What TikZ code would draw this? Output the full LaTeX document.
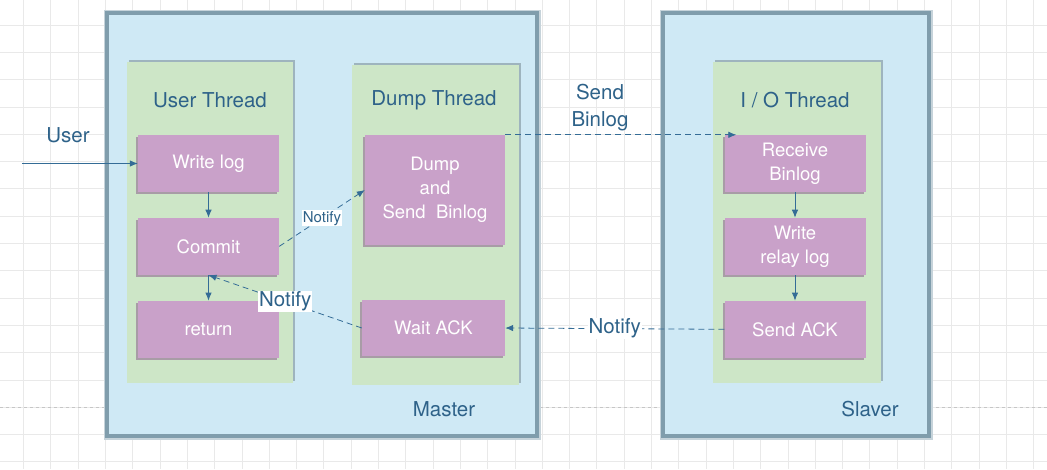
\documentclass[tikz,border=0pt]{standalone}
\usepackage{fontspec}
\setmainfont{TeX Gyre Heros}
\usetikzlibrary{arrows.meta,calc,positioning}

\definecolor{gridgray}{RGB}{233,233,233}
\definecolor{serverblue}{RGB}{207,233,245}
\definecolor{serveredge}{RGB}{128,157,172}
\definecolor{threadgreen}{RGB}{205,230,199}
\definecolor{threadedge}{RGB}{158,180,190}
\definecolor{taskpurple}{RGB}{201,161,201}
\definecolor{taskshadow}{RGB}{168,156,166}
\definecolor{inkblue}{RGB}{46,98,137}
\definecolor{arrowblue}{RGB}{52,108,150}

\tikzset{
	>={Latex[length=8pt,width=6.5pt]},     % arrow tips
	server/.style={fill=serverblue, draw=serveredge, line width=3.5pt,
		preaction={draw=serveredge!45, line width=7pt}},
	thread/.style={fill=threadgreen,
		preaction={fill=threadedge, transform canvas={xshift=2pt,yshift=2pt}}},
	task/.style={fill=taskpurple, text=white, align=center, inner sep=0pt,
		minimum width=141pt, minimum height=57pt,
		font=\fontsize{18.5}{24}\selectfont,
		preaction={fill=taskshadow, transform canvas={xshift=-2pt,yshift=-2pt}}},
	title/.style={text=inkblue, align=center, font=\fontsize{20.5}{27}\selectfont},
	flow/.style={->, arrowblue, line width=0.8pt},
	msg/.style={->, arrowblue, line width=0.8pt, dash pattern=on 6pt off 4pt},
	notelabel/.style={fill=white, text=inkblue, inner sep=1pt}
}

\begin{document}
\begin{tikzpicture}[x=1pt,y=-1pt,node distance=25.5pt]
	% page and grid
	\useasboundingbox[fill=white] (0,0) rectangle (1047,469);
	\foreach \i in {0,...,38}
		\draw[gridgray, line width=0.8pt] ({23.5+27.3*\i},0) -- ++(0,469);
	\foreach \j in {0,...,16}
		\draw[gridgray, line width=0.8pt] (0,{25+27.3*\j}) -- ++(1047,0);
	\draw[gray!45, dashed, line width=0.8pt] (0,407) -- (1047,407);
	
	% servers
	\draw[server] (107,13) rectangle (537,436);
	\draw[server] (663,13) rectangle (929,436);
	\node[title] (master) at (444,409) {Master};
	\node[title] (slaver) at (870,409) {Slaver};
	
	% thread panels
	\fill[thread] (127,62) rectangle (293,383);
	\fill[thread] (352,65) rectangle (519,385);
	\fill[thread] (713,62) rectangle (881,383);
	\node[title] (userthread) at (210,100) {User Thread};
	\node[title] (dumpthread) at (434,100) {Dump Thread};
	\node[title] (iothread) at (795,100) {I / O Thread};
	
	% user thread
	\node[task] (wlog) at (208.5,163.5) {Write log};
	\node[task, below=of wlog] (commit) {Commit};
	\node[task, below=of commit] (ret) {return};
	
	% dump thread
	\node[task, minimum width=140pt, minimum height=110pt] (dump) at (435,190)
		{Dump\\and\\Send\ \ Binlog};
	\node[task, minimum width=143pt, minimum height=56pt] (wack) at (433.5,328) {Wait ACK};
	
	% i/o thread
	\node[task] (recv) at (795,163.5) {Receive\\Binlog};
	\node[task, below=of recv] (relay) {Write\\relay log};
	\node[task, below=of relay] (sack) {Send ACK};
	
	% user input
	\coordinate (userin) at (22,163.5);
	\node[title] (user) at (68,135) {User};
	\draw[flow] (userin) -- (wlog.west);
	
	% local steps
	\draw[flow] (wlog) -- (commit);
	\draw[flow] (commit) -- (ret);
	\draw[flow] (recv) -- (relay);
	\draw[flow] (relay) -- (sack);
	
	% messages
	\draw[msg] (commit.east) -- node[notelabel, font=\fontsize{15}{18}\selectfont] {Notify} (dump.west);
	\draw[msg] (wack.west) -- node[notelabel, font=\fontsize{20.5}{24}\selectfont] {Notify} (commit.south);
	\draw[msg] (dump.north east) -- ($(recv.north west)+(12,0)$);
	\node[title] (sendbinlog) at (600,108) {Send\\Binlog};
	\draw[msg] (sack.west) -- node[notelabel, font=\fontsize{20.5}{24}\selectfont] {Notify} (wack.east);
\end{tikzpicture}
\end{document}
